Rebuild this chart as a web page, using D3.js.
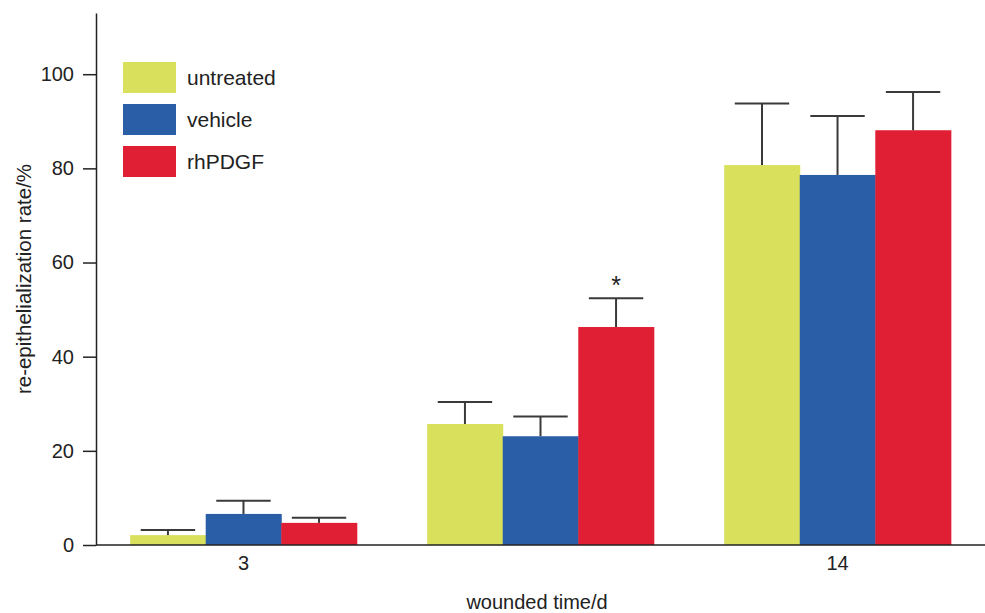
<!DOCTYPE html>
<html>
<head>
<meta charset="utf-8">
<script src="https://cdn.jsdelivr.net/npm/d3@7"></script>
<style>
  html, body { margin: 0; padding: 0; background: #fff; }
  svg { display: block; font-family: "Liberation Sans", Arial, Helvetica, sans-serif; }
</style>
</head>
<body>
<svg id="chart" width="985" height="613"></svg>
<script>
// Re-epithelialization rate by wounded time (days), mean with upper error bar
const days = ["3", "7", "14"];
const dayLabels = ["3", "", "14"];
const groups = ["untreated", "vehicle", "rhPDGF"];
const groupColors = ["#D9E05B", "#2A5FA8", "#E01F35"];
const untreatedMean = [2.1, 25.7, 80.7];
const untreatedErr  = [1.1, 4.7, 13.1];
const vehicleMean   = [6.6, 23.1, 78.6];
const vehicleErr    = [2.8, 4.2, 12.5];
const rhPDGFMean    = [4.7, 46.3, 88.1];
const rhPDGFErr     = [1.1, 6.1, 8.1];
const yTicks = [0, 20, 40, 60, 80, 100];
const significant = [{ day: "7", group: "rhPDGF", mark: "*" }];

const means = [untreatedMean, vehicleMean, rhPDGFMean];
const errs = [untreatedErr, vehicleErr, rhPDGFErr];
const rows = [];
days.forEach((d, i) => groups.forEach((g, j) => {
  rows.push({ day: d, group: g, color: groupColors[j], mean: means[j][i], err: errs[j][i] });
}));

const svg = d3.select("#chart");
const margin = { left: 96, right: 0, top: 13, bottom: 68 };
const W = 985, H = 613;
const y0 = H - margin.bottom; // 545

const x = d3.scaleBand().domain(days).range([margin.left, W]).paddingInner(0.237).paddingOuter(0.115);
const xg = d3.scaleBand().domain(groups).range([0, x.bandwidth()]);
const y = d3.scaleLinear().domain([0, 113]).range([y0, margin.top]);

// bars
svg.append("g").selectAll("rect").data(rows).join("rect")
  .attr("x", d => x(d.day) + xg(d.group))
  .attr("y", d => y(d.mean))
  .attr("width", xg.bandwidth() + 0.5)
  .attr("height", d => y(0) - y(d.mean))
  .attr("fill", d => d.color);

// error bars (upper only)
const eb = svg.append("g").attr("stroke", "#3a3a3a").attr("stroke-width", 2);
rows.forEach(d => {
  const cx = x(d.day) + xg(d.group) + xg.bandwidth() / 2;
  const capHalf = xg.bandwidth() * 0.36;
  eb.append("line").attr("x1", cx).attr("x2", cx).attr("y1", y(d.mean)).attr("y2", y(d.mean + d.err));
  eb.append("line").attr("x1", cx - capHalf).attr("x2", cx + capHalf)
    .attr("y1", y(d.mean + d.err)).attr("y2", y(d.mean + d.err));
});

// significance marks
significant.forEach(s => {
  const r = rows.find(d => d.day === s.day && d.group === s.group);
  const cx = x(r.day) + xg(r.group) + xg.bandwidth() / 2;
  svg.append("text").attr("x", cx).attr("y", y(r.mean + r.err) - 4)
    .attr("text-anchor", "middle").attr("font-size", 25).attr("fill", "#222").text(s.mark);
});

// y axis
const yAxis = svg.append("g").attr("transform", `translate(${margin.left},0)`)
  .call(d3.axisLeft(y).tickValues(yTicks).tickSize(13).tickPadding(9).tickSizeOuter(0));
yAxis.select(".domain").attr("stroke", "#222").attr("stroke-width", 1.5);
yAxis.selectAll(".tick line").attr("stroke", "#222").attr("stroke-width", 1.5);
yAxis.selectAll(".tick text").attr("font-size", 20).attr("fill", "#222")
  .attr("font-family", "Liberation Sans, Arial, sans-serif");

// x axis
const xAxis = svg.append("g").attr("transform", `translate(0,${y0})`)
  .call(d3.axisBottom(x).tickSize(0).tickPadding(11).tickFormat((d, i) => dayLabels[i]));
xAxis.select(".domain").attr("stroke", "#222").attr("stroke-width", 1.5)
  .attr("d", `M${margin.left},0H${W}`);
xAxis.selectAll(".tick text").attr("font-size", 20).attr("fill", "#222")
  .attr("font-family", "Liberation Sans, Arial, sans-serif");

// axis titles
svg.append("text").attr("x", 537).attr("y", 609).attr("text-anchor", "middle")
  .attr("font-size", 20).attr("fill", "#222").text("wounded time/d");
svg.append("text").attr("transform", `translate(31,279) rotate(-90)`).attr("text-anchor", "middle")
  .attr("font-size", 20.5).attr("fill", "#222").text("re-epithelialization rate/%");

// legend
const legend = svg.append("g").attr("transform", "translate(123,62)");
groups.forEach((g, i) => {
  const row = legend.append("g").attr("transform", `translate(0,${i * 42})`);
  row.append("rect").attr("width", 53).attr("height", 31).attr("fill", groupColors[i]);
  row.append("text").attr("x", 64).attr("y", 23).attr("font-size", 21).attr("fill", "#222").text(g);
});
</script>
</body>
</html>
